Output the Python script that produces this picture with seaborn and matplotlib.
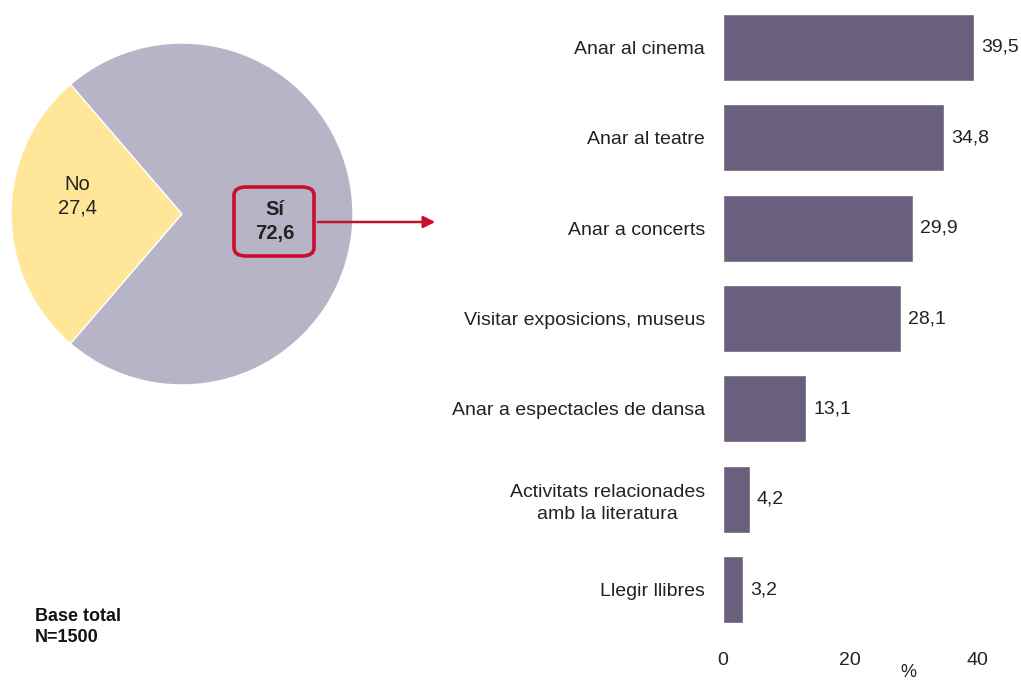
import seaborn as sns
import pandas as pd
import numpy as np
import matplotlib.pyplot as plt
from matplotlib.patches import FancyArrowPatch, FancyBboxPatch

# dades
pie_labels = ["No", "Sí"]
pie_values = [27.4, 72.6]
activitats = ["Anar al cinema", "Anar al teatre", "Anar a concerts",
              "Visitar exposicions, museus", "Anar a espectacles de dansa",
              "Activitats relacionades\namb la literatura", "Llegir llibres"]
percentatges = [39.5, 34.8, 29.9, 28.1, 13.1, 4.2, 3.2]
x_ticks = [0, 20, 40]

sns.set_style("white")
plt.rcParams['font.family'] = ['Liberation Sans', 'DejaVu Sans']

fig = plt.figure(figsize=(10.21, 6.86), dpi=100)
W, H = 1021, 686
txt = "#222222"
vermell = "#C8102E"

# pastis
ax_pie = fig.add_axes([11 / W, 1 - 385 / H, 342 / W, 342 / H])
ax_pie.pie(pie_values, colors=["#FFE699", "#B8B4C7"], startangle=180 - 27.4 * 3.6 / 2,
           counterclock=True, radius=1)
ax_pie.set_xlim(-1, 1)
ax_pie.set_ylim(-1, 1)
ax_pie.axis("off")
ax_pie.text(-0.61, 0.105, "%s\n%s" % (pie_labels[0], str(pie_values[0]).replace(".", ",")),
            ha="center", va="center", fontsize=14.5, color=txt, linespacing=1.3)
ax_pie.text(0.54, -0.045, "%s\n%s" % (pie_labels[1], str(pie_values[1]).replace(".", ",")),
            ha="center", va="center", fontsize=14.5, fontweight="bold", color=txt,
            linespacing=1.3)

caixa = FancyBboxPatch((234 / W, 1 - 256 / H), 80 / W, 69 / H,
                       boxstyle="round,pad=0,rounding_size=0.012",
                       transform=fig.transFigure, fc="none", ec=vermell, lw=2.6)
fig.patches.append(caixa)

arrow = FancyArrowPatch((315 / W, 1 - 222 / H), (438 / W, 1 - 222 / H),
                        transform=fig.transFigure, arrowstyle="-|>,head_length=7,head_width=3.5",
                        color=vermell, lw=1.8)
fig.patches.append(arrow)

fig.text(35 / W, 1 - 627 / H, "Base total\nN=1500", fontsize=13, fontweight="bold",
         ha="left", va="center", color="#111111", linespacing=1.25)

# barres
ax = fig.add_axes([723 / W, 1 - 635 / H, 254 / W, 633 / H])
df = pd.DataFrame({"activitat": activitats, "pct": percentatges})
sns.barplot(data=df, x="pct", y="activitat", color="#6A5F7C", saturation=1,
            width=0.74, ax=ax)
ax.set_xlim(0, 40)
ax.set_ylim(len(activitats) - 0.5, -0.5)
ax.set_xticks(x_ticks)
ax.tick_params(axis="x", labelsize=14, pad=12, length=0, colors=txt)
ax.tick_params(axis="y", labelsize=14, pad=13, length=0, colors=txt)
for lab in ax.get_yticklabels():
    lab.set_multialignment("center")
    lab.set_linespacing(1.35)
ax.set_ylabel("")
ax.set_xlabel("%", fontsize=13, color=txt)
ax.xaxis.set_label_coords(0.73, -0.046)
sns.despine(ax=ax, left=True, bottom=True)
ax.bar_label(ax.containers[0], labels=[str(v).replace(".", ",") for v in percentatges],
             padding=5, fontsize=14, color=txt)

plt.savefig("out.png", dpi=100)
